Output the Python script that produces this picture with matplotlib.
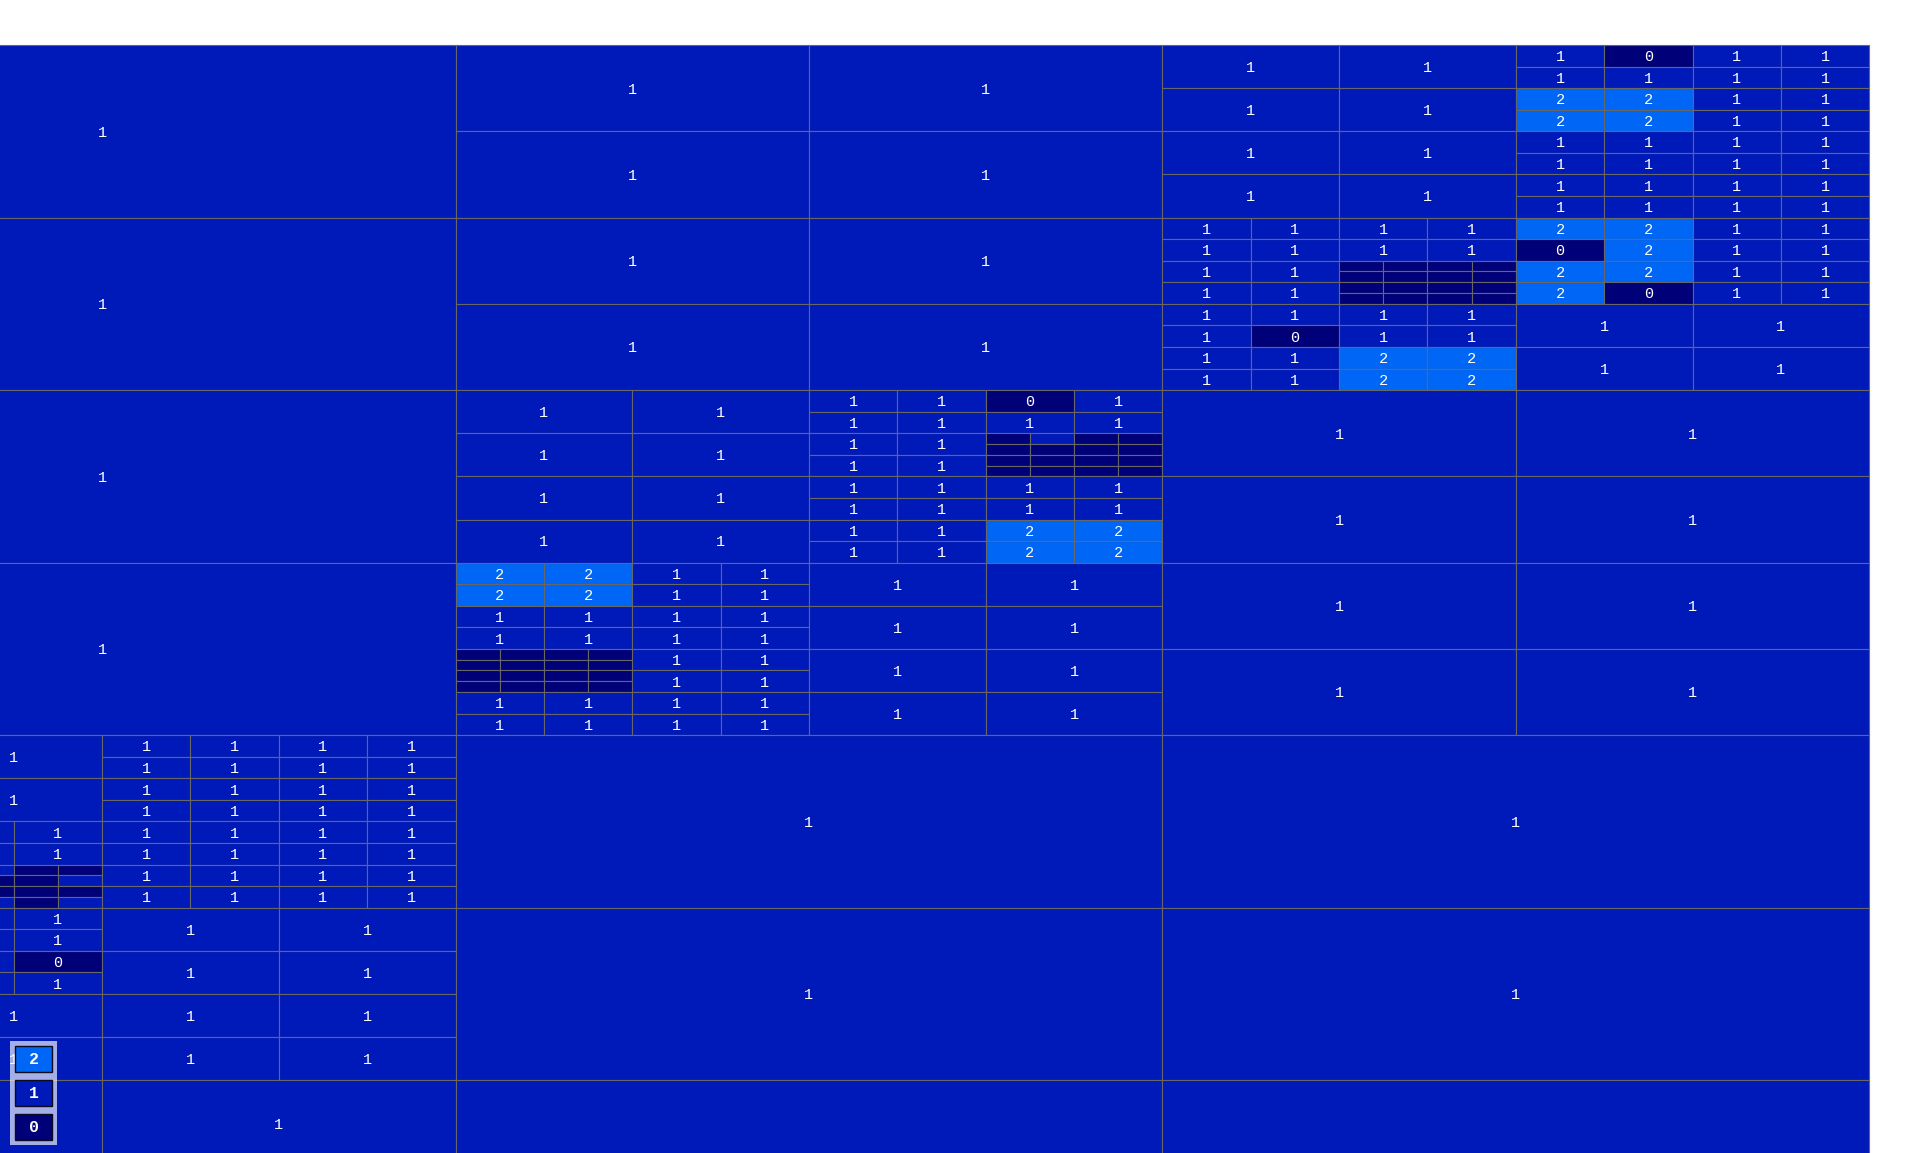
import matplotlib
matplotlib.use("Agg")
import matplotlib.pyplot as plt
from matplotlib.patches import Rectangle
from matplotlib.transforms import offset_copy

# ---------------- data ----------------
# top-level grid (rows top->bottom, columns left->right; the left column is partly cut off)
row_index = [0, 1, 2, 3, 4, 5, 6]
col_index = [-1, 0, 1]
# quadtree codes in preorder: 'd' = split into TL, TR, BL, BR ; a digit = leaf value
row0 = ["1", "d1111",
        "dd1111dd1011d1111d2222d1111d1111dd1111d1111d1111d1111"]
row1 = ["1", "d1111",
        "ddd1111d1111d1111dd0000d0000d0000d0000dd2202d1111d2220d1111dd1110d1111d1111d2222d1111"]
row2 = ["1", "dd1111dd1111d0111d1111dd0100d0000d0000d0000d1111dd1111d1111d1111d2222",
        "d1111"]
row3 = ["1", "ddd2222d1111d1111d1111d1111ddd0000d0000d0000d0000d1111d1111d1111d1111",
        "d1111"]
row4 = ["dd1111dd1111d1111d1111d1111d1d11111dd0100d0001d0001d0001dd1111d1111d1111d1111",
        "1", "1"]
row5 = ["dd1d11111d1011d1111d1111d1111", "1", "1"]
row6 = ["d1111", "1", "1"]
grid_codes = [row0, row1, row2, row3, row4, row5, row6]

value_colors = {0: "#000078", 1: "#0019B9", 2: "#0066F5"}
legend_values = [2, 1, 0]
line_color = "#676767"

# ---------------- parsing ----------------
def parse(code, x, y, w, h, level, out, pos=0):
    ch = code[pos]
    if ch == "d":
        pos += 1
        for dx, dy in [(0, 0), (1, 0), (0, 1), (1, 1)]:
            pos = parse(code, x + dx * w / 2, y + dy * h / 2, w / 2, h / 2,
                        level + 1, out, pos)
        return pos
    out.append((x, y, w, h, int(ch), level))
    return pos + 1

leaves = []
for r, codes in zip(row_index, grid_codes):
    for c, code in zip(col_index, codes):
        parse(code, c, r, 1.0, 1.0, 0, leaves)

# ---------------- figure ----------------
W, H = 1920, 1153
fig = plt.figure(figsize=(W / 100, H / 100), dpi=100)
fig.patch.set_facecolor("white")
ax = fig.add_axes([0, 0, 1, 1])
ax.set_axis_off()

x_px0, x_unit = 455.5, 706.9     # pixel of column boundary 0 and width of top cell
y_px0, y_unit = 45.0, 172.55
xmin, xmax = -x_px0 / x_unit, (W - x_px0) / x_unit
ymin, ymax = -y_px0 / y_unit, (H - y_px0) / y_unit
ax.set_xlim(xmin, xmax)
ax.set_ylim(ymax, ymin)

for (x, y, w, h, v, lvl) in leaves:
    ax.add_patch(Rectangle((x, y), w, h, facecolor=value_colors[v],
                           edgecolor=line_color, linewidth=0.8))

txt_tr = offset_copy(ax.transData, fig=fig, x=0, y=-1.0, units="points")
for (x, y, w, h, v, lvl) in leaves:
    cx, cy = x + w / 2, y + h / 2
    if lvl <= 3 and xmin < cx < xmax and ymin < cy < ymax:
        ax.text(cx, cy, str(v), color="white", transform=txt_tr,
                ha="center", va="center", fontsize=11,
                family="Liberation Mono", clip_on=True)

# ---------------- legend ----------------
lax = fig.add_axes([0, 0, 1, 1])
lax.set_axis_off()
lax.set_xlim(0, W)
lax.set_ylim(H, 0)
lax.patch.set_alpha(0)
lax.add_patch(Rectangle((10, 1041), 47, 104, facecolor="white", alpha=0.65,
                        edgecolor="none"))
for i, v in enumerate(legend_values):
    y0 = 1046 + i * 34
    lax.add_patch(Rectangle((15, y0), 37, 26, facecolor=value_colors[v],
                            edgecolor="#0a0a20", linewidth=1.0))
    lax.text(33.5, y0 + 13, str(v), color="white", ha="center", va="center",
             fontsize=12, fontweight="bold", family="Liberation Mono")

fig.savefig("out.png", dpi=100, facecolor="white")
